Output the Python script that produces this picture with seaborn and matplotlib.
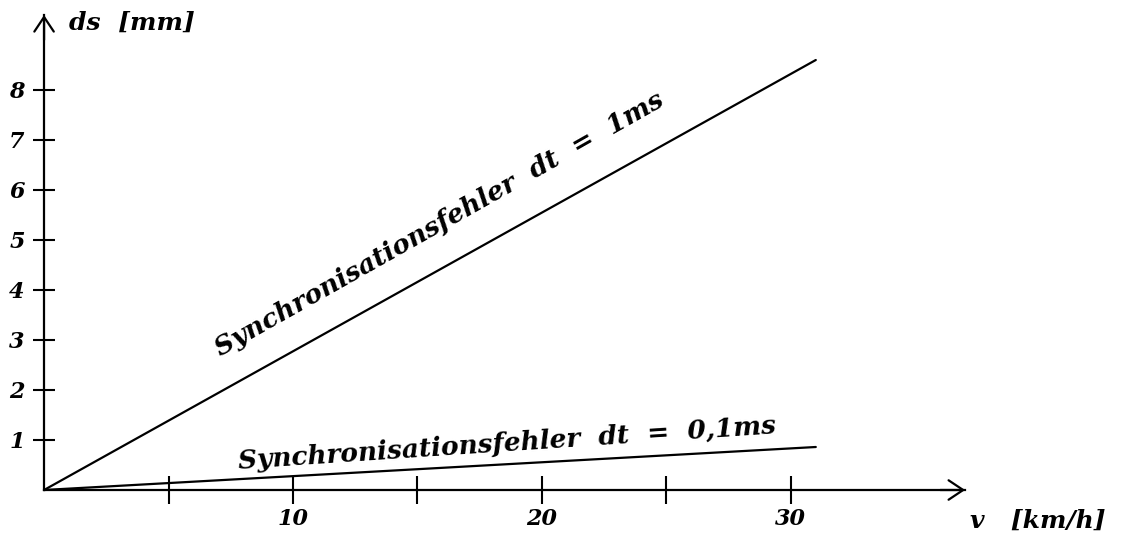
import matplotlib
matplotlib.use("Agg")
import matplotlib.pyplot as plt
import pandas as pd
import seaborn as sns

# speed in km/h and position error in mm
speed_kmh = [0, 31]
ds_dt_1ms = [0, 8.6]
ds_dt_01ms = [0, 0.86]

x_major = [10, 20, 30]
x_minor = [5, 15, 25]
y_ticks = [1, 2, 3, 4, 5, 6, 7, 8]

label_1ms = "Synchronisationsfehler  dt  =  1ms"
label_01ms = "Synchronisationsfehler  dt  =  0,1ms"

sns.set_theme(style="white")
plt.rcParams["font.family"] = ["DejaVu Serif"]
plt.rcParams["text.color"] = "black"

df = pd.DataFrame({"v": speed_kmh, "ds1": ds_dt_1ms, "ds01": ds_dt_01ms})

fig = plt.figure(figsize=(11.22, 5.33), dpi=100)
ax = fig.add_axes([0, 0, 1, 1])
ax.set_facecolor("white")

sns.lineplot(data=df, x="v", y="ds1", color="black", linewidth=1.6, ax=ax)
sns.lineplot(data=df, x="v", y="ds01", color="black", linewidth=1.6, ax=ax)

ax.set_xlim(-1.77, 43.3)
ax.set_ylim(-0.86, 9.8)

for side in ["top", "right"]:
    ax.spines[side].set_visible(False)
for side in ["left", "bottom"]:
    ax.spines[side].set_position(("data", 0))
    ax.spines[side].set_color("black")
    ax.spines[side].set_linewidth(1.6)
ax.spines["bottom"].set_bounds(0, 37)
ax.spines["left"].set_bounds(0, 9.5)

ax.set_xticks(x_major)
ax.set_xticks(x_minor, minor=True)
ax.set_yticks(y_ticks)
ax.tick_params(axis="x", which="both", direction="inout", length=20, width=1.5,
               color="black", labelcolor="black", pad=3, bottom=True)
ax.tick_params(axis="y", which="both", direction="inout", length=16, width=1.5,
               color="black", labelcolor="black", pad=6, left=True)
for lab in ax.get_xticklabels() + ax.get_yticklabels():
    lab.set_fontsize(16)
    lab.set_fontweight("bold")
    lab.set_fontstyle("italic")
ax.set_xlabel("")
ax.set_ylabel("")
ax.grid(False)

arrow = dict(arrowstyle="->,head_length=0.75,head_width=0.5", color="black",
             lw=1.6, shrinkA=0, shrinkB=0, mutation_scale=14)
ax.annotate("", xy=(37, 0), xytext=(36, 0), arrowprops=arrow)
ax.annotate("", xy=(0, 9.5), xytext=(0, 9.0), arrowprops=arrow)

text_kw = dict(fontsize=18, style="italic", fontweight="bold", color="black")
ax.text(1.0, 9.2, "ds  [mm]", ha="left", va="baseline", **text_kw)
ax.text(37.2, -0.76, "v   [km/h]", ha="left", va="baseline", **text_kw)

label_kw = dict(text_kw, fontsize=19)
ax.text(7.1, 2.66, label_1ms, rotation=29.5, rotation_mode="anchor",
        ha="left", va="baseline", **label_kw)
ax.text(7.8, 0.42, label_01ms, rotation=3.8, rotation_mode="anchor",
        ha="left", va="baseline", **label_kw)

fig.savefig("out.png", dpi=100, facecolor="white")
